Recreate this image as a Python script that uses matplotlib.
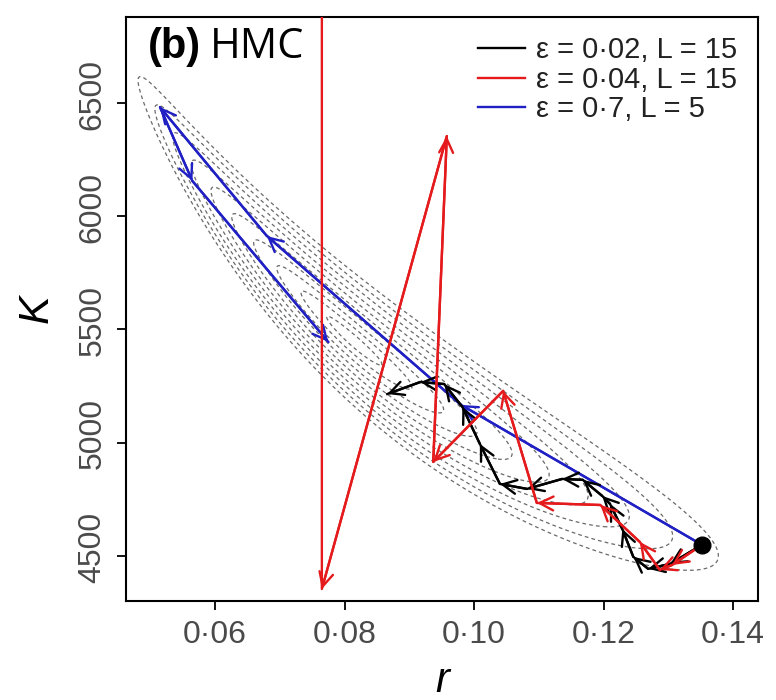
import numpy as np
import matplotlib.pyplot as plt
import matplotlib.transforms as mtrans
from matplotlib.ticker import FuncFormatter

plt.rcParams['font.family'] = ['Liberation Sans', 'DejaVu Sans']

# posterior shape used for the dashed contours (ellipses in log r / log K)
post_r0, post_K0 = 0.0814, 5450.0
post_slope = -0.364
post_half_len = 0.526      # outer contour half-length (log r)
post_half_wid = 0.054      # outer contour half-width (log K)
post_wid_growth = 0.8      # contours get blunter towards large r
contour_levels = [0.1, 0.2, 0.3, 0.4, 0.5, 0.6, 0.7, 0.8, 0.9, 1.0]

# trajectories (r, K)
black_r = [0.1352, 0.1303, 0.1269, 0.1246, 0.1229, 0.1210, 0.1198, 0.1168,
           0.1136, 0.1082, 0.1040, 0.1009, 0.0982, 0.0954, 0.0917, 0.0866]
black_K = [4549, 4465, 4443, 4496, 4619, 4730, 4765, 4836,
           4840, 4796, 4818, 4995, 5158, 5259, 5268, 5215]

red_r = [0.1352, 0.1306, 0.1287, 0.1256, 0.1195, 0.1097, 0.1045,
         0.0937, 0.0958, 0.0765, 0.0765]
red_K = [4549, 4460, 4438, 4562, 4725, 4734, 5229,
         4915, 6354, 4354, 7600]

blue_r = [0.1352, 0.0980, 0.0680, 0.0515, 0.0565, 0.0775]
blue_K = [4549, 5167, 5913, 6482, 6156, 5445]

x_ticks = [0.06, 0.08, 0.10, 0.12, 0.14]
y_ticks = [4500, 5000, 5500, 6000, 6500]

labels = ['ε = 0·02, L = 15', 'ε = 0·04, L = 15', 'ε = 0·7, L = 5']
colors = ['black', '#e41a1c', '#2020c4']

fig = plt.figure(figsize=(7.76, 7.0), dpi=100)
ax = fig.add_axes([126 / 776, 99 / 700, 632 / 776, 584 / 700])

# contours
rg = np.linspace(0.040, 0.150, 500)
Kg = np.linspace(4100, 7100, 500)
R, KK = np.meshgrid(rg, Kg)
a = np.log(R / post_r0)
b = np.log(KK / post_K0) - post_slope * a
wid = post_half_wid * (1 + post_wid_growth * a)
dist = np.sqrt((a / post_half_len) ** 2 + (b / wid) ** 2)
ax.contour(R, KK, dist, levels=contour_levels, colors='#6a6a6a',
           linewidths=0.9, linestyles=[(0, (3, 2.5))])


def draw_path(rs, Ks, col):
    ax.plot(rs, Ks, color=col, lw=1.7, zorder=3)
    for i in range(len(rs) - 1):
        ax.annotate('', xy=(rs[i + 1], Ks[i + 1]), xytext=(rs[i], Ks[i]),
                    arrowprops=dict(arrowstyle='->,head_length=0.5,head_width=0.25',
                                    color=col, lw=1.7, shrinkA=0, shrinkB=0,
                                    mutation_scale=20), zorder=3)


draw_path(blue_r, blue_K, colors[2])
draw_path(black_r, black_K, colors[0])
draw_path(red_r, red_K, colors[1])
ax.plot(black_r[0], black_K[0], 'o', color='black', ms=12, zorder=5)

# legend
for lab, col in zip(labels, colors):
    ax.plot([], [], color=col, lw=1.7, label=lab)
leg = ax.legend(loc='upper right', bbox_to_anchor=(0.995, 0.997), frameon=False,
                fontsize=21, handlelength=1.6, handletextpad=0.4, labelspacing=0.05,
                borderaxespad=0.2)
for t in leg.get_texts():
    t.set_color('#222222')

ax.text(0.035, 0.93, '(b)', transform=ax.transAxes, fontsize=30,
        fontweight='bold', family=['Liberation Sans'], va='baseline')
ax.text(0.133, 0.93, 'HMC', transform=ax.transAxes, fontsize=30,
        family=['Open Sans'], va='baseline')

ax.set_xlim(0.04625, 0.14386)
ax.set_ylim(4301, 6880)
ax.set_xticks(x_ticks)
ax.set_yticks(y_ticks)
ax.xaxis.set_major_formatter(FuncFormatter(lambda v, p: f'{v:.2f}'.replace('.', '·')))
ax.yaxis.set_major_formatter(FuncFormatter(lambda v, p: f'{v:.0f}'))
ax.tick_params(direction='out', length=6.5, width=1.3, labelsize=23,
               labelcolor='#4a4a4a', pad=7)
ax.tick_params(axis='y', labelrotation=90)
shift_up = mtrans.ScaledTranslation(0, 0.09, fig.dpi_scale_trans)
for lbl in ax.get_yticklabels():
    lbl.set_va('center')
    lbl.set_transform(lbl.get_transform() + shift_up)
for sp in ax.spines.values():
    sp.set_linewidth(1.5)

ax.set_xlabel('r', fontsize=30, style='italic', va='baseline')
ax.xaxis.set_label_coords(0.5, -0.155)
ax.set_ylabel('K', fontsize=31, style='italic')
ax.yaxis.set_label_coords(-0.11, 0.5)

fig.savefig('out.png', dpi=100)
